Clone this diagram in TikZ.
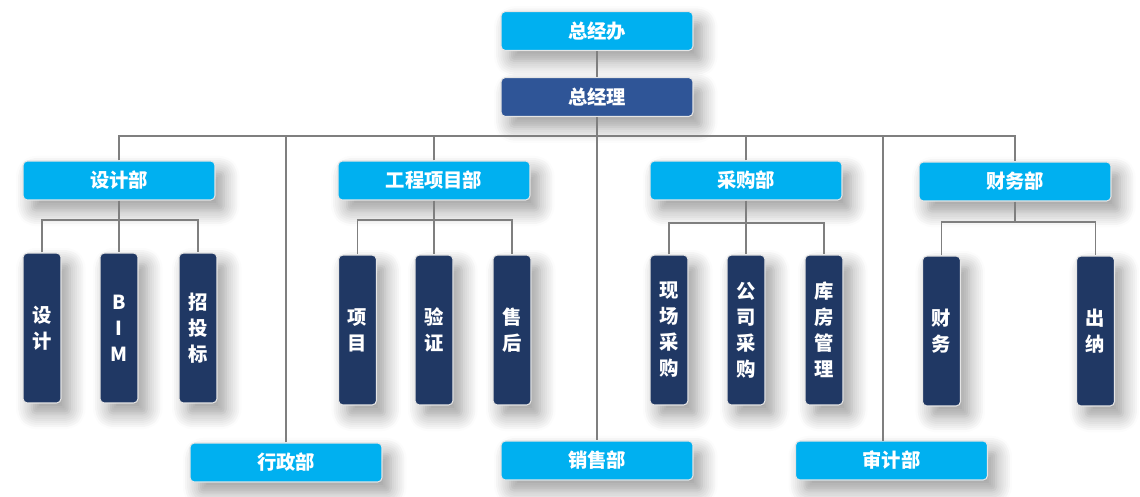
\documentclass[tikz,border=0pt]{standalone}
\usepackage{fontspec}
\newfontfamily\cjk{Noto Sans CJK SC}
\usepackage{tikz}
\usetikzlibrary{positioning, shadows.blur}

\definecolor{deptblue}{HTML}{00B0F0}
\definecolor{headblue}{HTML}{2F5597}
\definecolor{subnavy}{HTML}{203864}
\definecolor{linegray}{HTML}{7F7F7F}

\begin{document}
\begin{tikzpicture}[x=0.02cm, y=-0.02cm,
          conn/.style={draw=linegray, line width=1.1pt},
          box/.style={rectangle, rounded corners=2.5pt, draw=white!90!black, line width=0.6pt,
            text=white, inner sep=0pt, font=\cjk\bfseries\fontsize{11}{14.8}\selectfont,
            blur shadow={shadow xshift=5pt, shadow yshift=-6pt, shadow blur radius=9pt,
              shadow blur steps=8, shadow opacity=40}},
          dept/.style={box, fill=deptblue, minimum width=3.84cm, minimum height=0.78cm},
          head/.style={dept, fill=headblue},
          sub/.style={box, fill=subnavy, minimum width=0.76cm, minimum height=3cm, align=center}
        ]
        \useasboundingbox (0,0) rectangle (1140,497);

        % top
        \node[dept] (zjb) at (597,31) {总经办};
        \node[head] (zjl) at (597,97) {总经理};
        \coordinate (bus) at (598,136);

        % departments
        \node[dept] (sheji)     at (119,180.5)  {设计部};
        \node[dept] (gongcheng) at (434,180.5)  {工程项目部};
        \node[dept] (caigou)    at (746,180.5)  {采购部};
        \node[dept] (caiwu)     at (1015,181.5) {财务部};
        \node[dept] (xingzheng) at (286,462.5)  {行政部};
        \node[dept] (xiaoshou)  at (597,460.5)  {销售部};
        \node[dept] (shenji)    at (891.5,460.5) {审计部};
        \coordinate (sjline) at (883,441);

        % sub units
        \node[sub] (sj1) at (42,328)    {设\\计};
        \node[sub] (sj2) at (119,328)   {B\\I\\M};
        \node[sub] (sj3) at (198,328)   {招\\投\\标};
        \node[sub] (gc1) at (357.5,330) {项\\目};
        \node[sub] (gc2) at (434,330)   {验\\证};
        \node[sub] (gc3) at (512,330)   {售\\后};
        \node[sub] (cg1) at (669,330)   {现\\场\\采\\购};
        \node[sub] (cg2) at (746,330)   {公\\司\\采\\购};
        \node[sub] (cg3) at (824,330)   {库\\房\\管\\理};
        \node[sub] (cw1) at (941.5,331) {财\\务};
        \node[sub] (cw2) at (1095.5,331) {出\\纳};

        \coordinate (sjbar) at (119,220);
        \coordinate (gcbar) at (434,220);
        \coordinate (cgbar) at (746,223);
        \coordinate (cwbar) at (1015,222);

        \draw[conn] (zjb.south) -- (zjl.north);
        \draw[conn] (zjl.south) -- (xiaoshou.north);
        \draw[conn] (sheji.north) |- (bus) -| (caiwu.north);
        \draw[conn] (gongcheng.north) -- (gongcheng.north |- bus);
        \draw[conn] (caigou.north) -- (caigou.north |- bus);
        \draw[conn] (xingzheng.north) -- (xingzheng.north |- bus);
        \draw[conn] (sjline) -- (sjline |- bus);

        \draw[conn] (sj1.north) |- (sjbar) -| (sj3.north);
        \draw[conn] (sheji.south) -- (sj2.north);
        \draw[conn] (gc1.north) |- (gcbar) -| (gc3.north);
        \draw[conn] (gongcheng.south) -- (gc2.north);
        \draw[conn] (cg1.north) |- (cgbar) -| (cg3.north);
        \draw[conn] (caigou.south) -- (cg2.north);
        \draw[conn] (cw1.north) |- (cwbar) -| (cw2.north);
        \draw[conn] (caiwu.south) -- (cwbar);
      \end{tikzpicture}
\end{document}
